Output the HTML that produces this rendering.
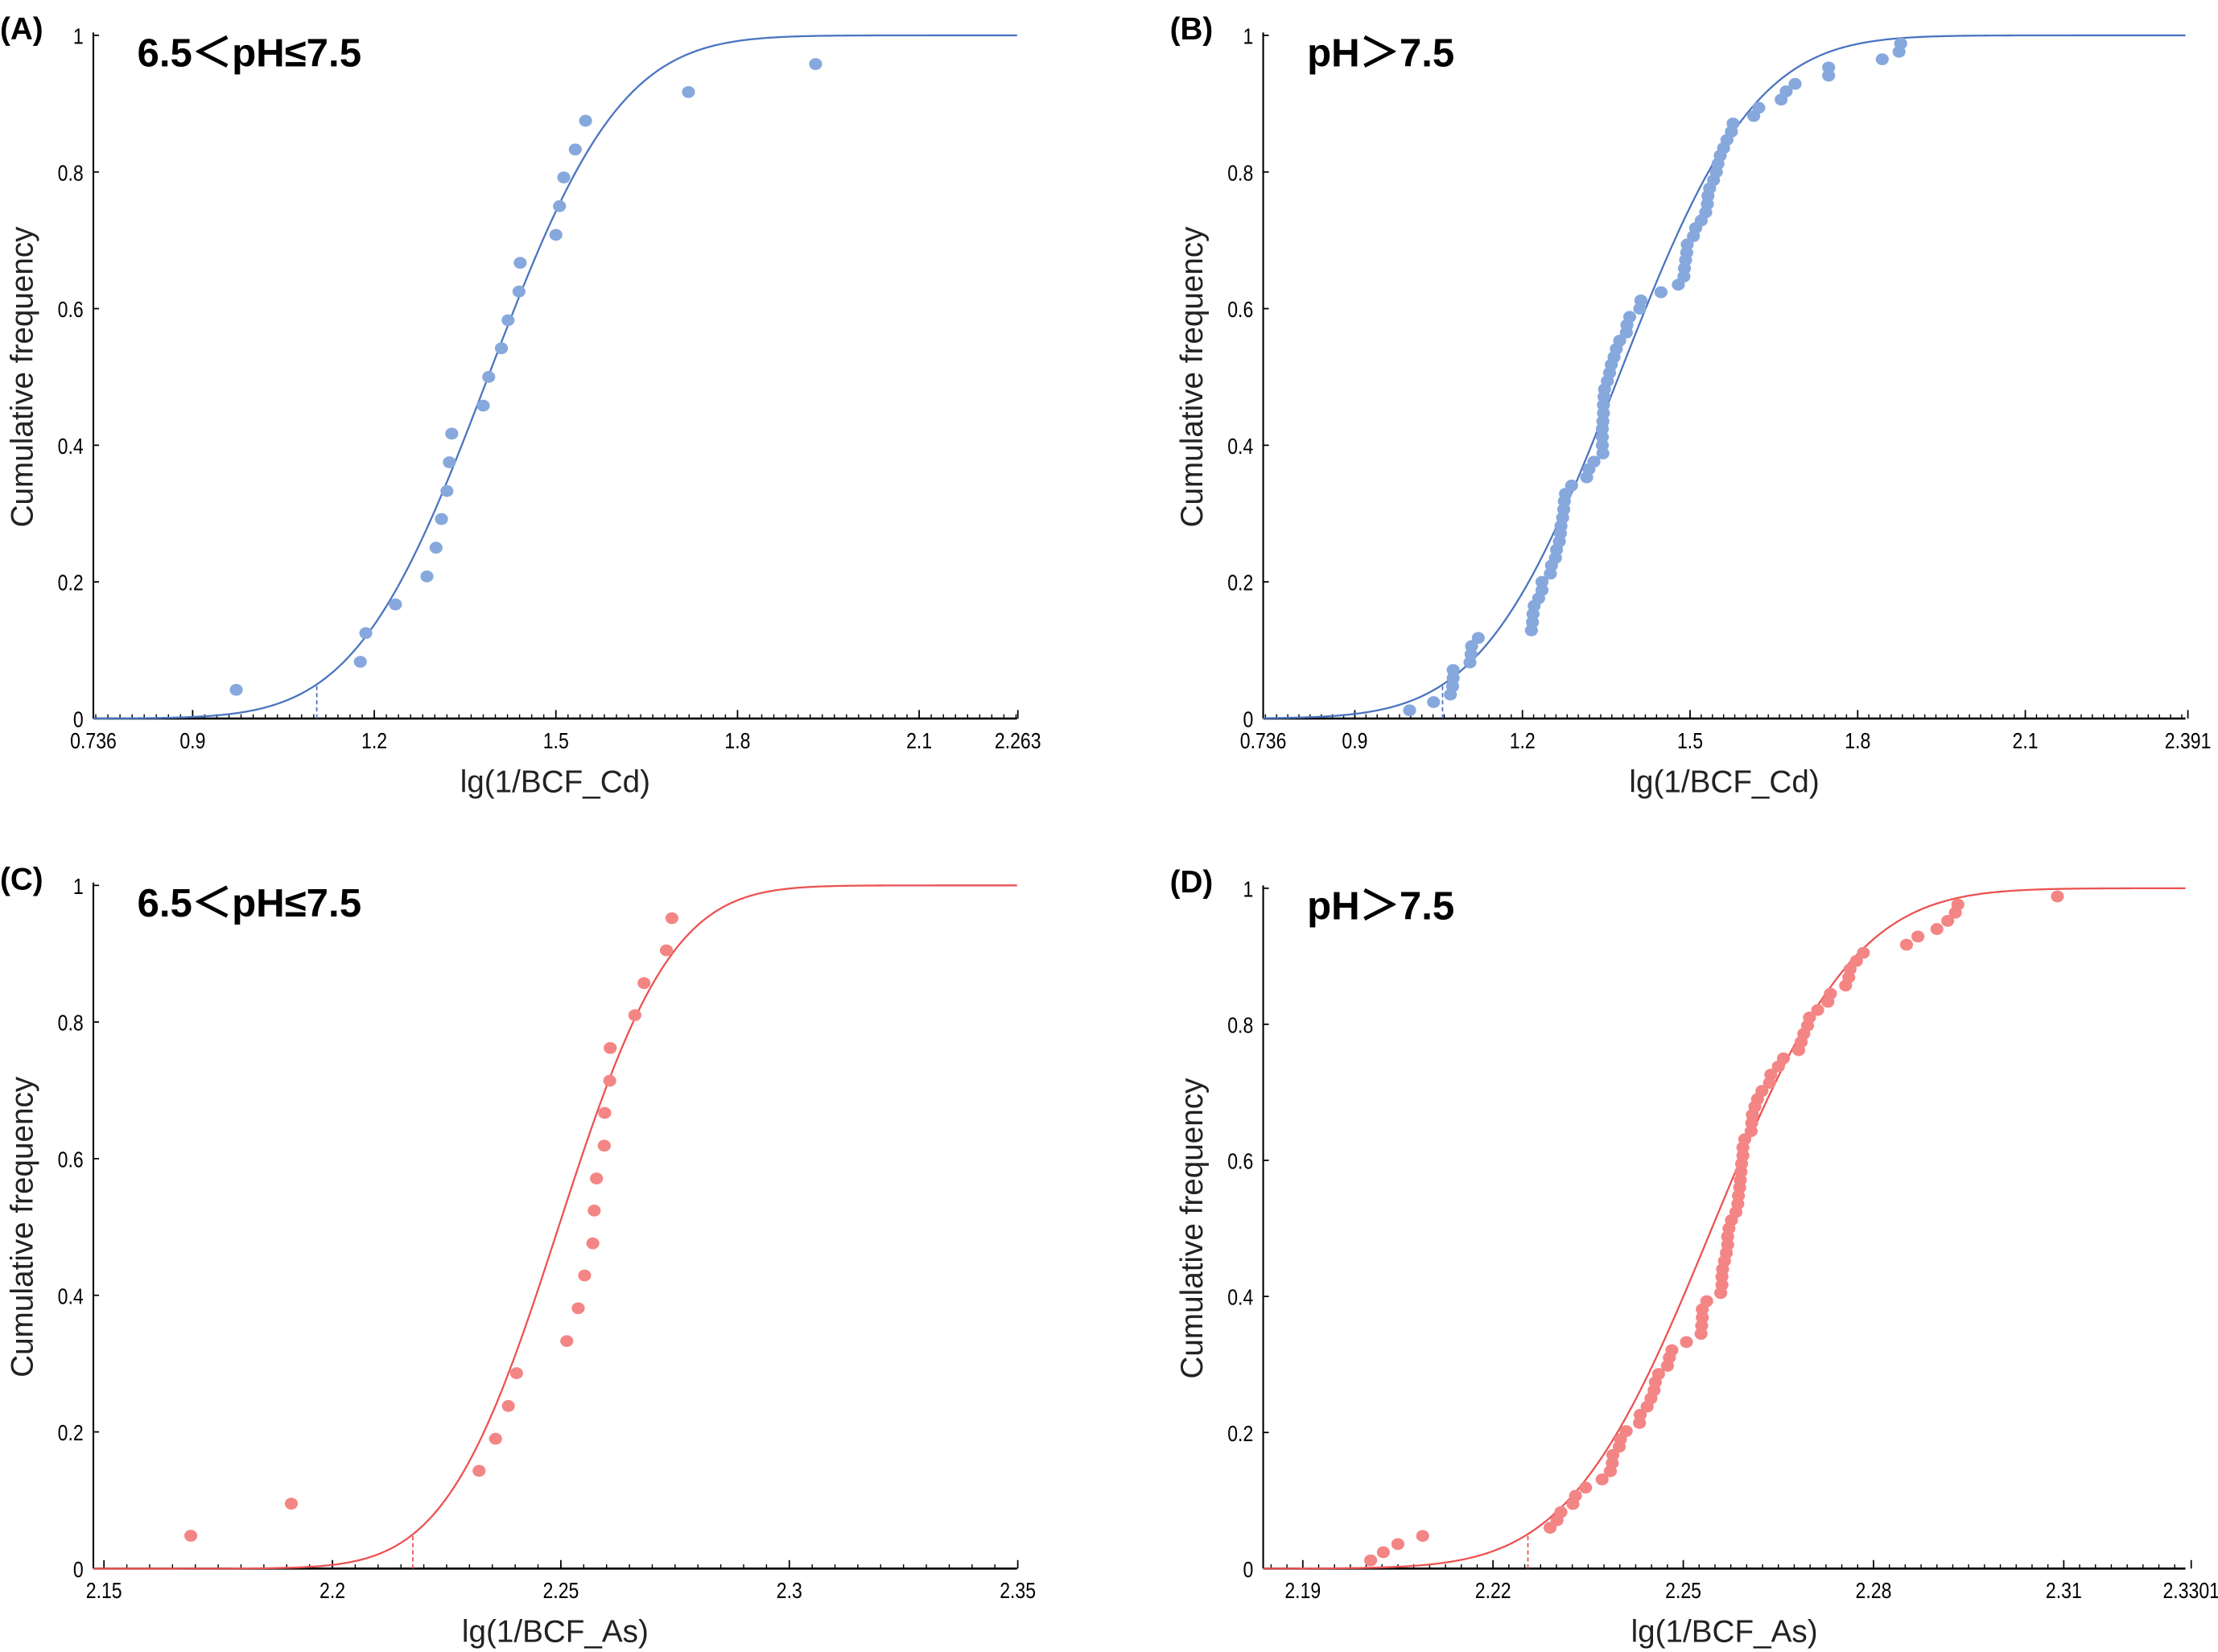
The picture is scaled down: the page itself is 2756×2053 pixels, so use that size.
<!DOCTYPE html>
<html><head><meta charset="utf-8"><title>Cumulative frequency SSD charts</title>
<style>
html,body{margin:0;padding:0;background:#fff;}
svg{display:block;}
text{font-family:"Liberation Sans",Arial,sans-serif;}
.tick{font-size:16px;fill:#000;}
.axt{font-size:22px;fill:#222;}
.ttl{font-size:28px;font-weight:bold;fill:#000;}
.pl{font-size:22px;font-weight:bold;fill:#000;}
</style></head>
<body>
<svg id="fig" width="2756" height="2053" viewBox="0 0 1568 1168" preserveAspectRatio="none" xmlns="http://www.w3.org/2000/svg"></svg>
<script>
// Panel A: Cd, 6.5<pH<=7.5
const aX = [0.972,1.177,1.186,1.235,1.287,1.302,1.311,1.320,1.324,1.328,1.380,1.389,1.410,1.421,1.439,1.441,1.500,1.506,1.513,1.532,1.549,1.719,1.929];
const aY = [0.042,0.083,0.125,0.167,0.208,0.250,0.292,0.333,0.375,0.417,0.458,0.500,0.542,0.583,0.625,0.667,0.708,0.750,0.792,0.833,0.875,0.917,0.958];
const aFit = [1.388, 0.172];
const aHC5 = [1.105];
const aTicks = [0.736,0.9,1.2,1.5,1.8,2.1,2.263];
// Panel B: Cd, pH>7.5
const bX = [0.998,1.041,1.071,1.075,1.076,1.076,1.106,1.108,1.109,1.121,1.216,1.218,1.219,1.221,1.229,1.235,1.235,1.250,1.252,1.259,1.261,1.266,1.268,1.269,1.272,1.274,1.275,1.277,1.288,1.315,1.319,1.328,1.344,1.343,1.343,1.343,1.344,1.345,1.345,1.346,1.347,1.352,1.356,1.359,1.364,1.368,1.374,1.386,1.387,1.392,1.410,1.412,1.448,1.479,1.489,1.490,1.492,1.494,1.495,1.506,1.510,1.520,1.528,1.531,1.532,1.535,1.542,1.547,1.550,1.554,1.560,1.566,1.574,1.577,1.614,1.623,1.663,1.672,1.688,1.748,1.748,1.844,1.874,1.877];
const bY = [0.012,0.024,0.035,0.047,0.059,0.071,0.082,0.094,0.106,0.118,0.129,0.141,0.153,0.165,0.176,0.188,0.200,0.212,0.224,0.235,0.247,0.259,0.271,0.282,0.294,0.306,0.318,0.329,0.341,0.353,0.365,0.376,0.388,0.400,0.412,0.424,0.435,0.447,0.459,0.471,0.482,0.494,0.506,0.518,0.529,0.541,0.553,0.565,0.576,0.588,0.600,0.612,0.624,0.635,0.647,0.659,0.671,0.682,0.694,0.706,0.718,0.729,0.741,0.753,0.765,0.776,0.788,0.800,0.812,0.824,0.835,0.847,0.859,0.871,0.882,0.894,0.906,0.918,0.929,0.941,0.953,0.965,0.976,0.988];
const bFit = [1.372, 0.191];
const bHC5 = [1.057];
const bTicks = [0.736,0.9,1.2,1.5,1.8,2.1,2.391];
// Panel C: As, 6.5<pH<=7.5
const cX = [2.1690,2.1910,2.2321,2.2357,2.2385,2.2403,2.2513,2.2538,2.2552,2.2570,2.2573,2.2578,2.2595,2.2596,2.2607,2.2608,2.2662,2.2682,2.2731,2.2743];
const cY = [0.048,0.095,0.143,0.190,0.238,0.286,0.333,0.381,0.429,0.476,0.524,0.571,0.619,0.667,0.714,0.762,0.810,0.857,0.905,0.952];
const cFit = [2.2495, 0.0194];
const cHC5 = [2.2176];
const cTicks = [2.15,2.2,2.25,2.3,2.35];
// Panel D: As, pH>7.5
const dX = [2.2007,2.2027,2.2050,2.2089,2.2290,2.2301,2.2307,2.2326,2.2330,2.2346,2.2372,2.2385,2.2388,2.2389,2.2399,2.2401,2.2410,2.2431,2.2432,2.2443,2.2449,2.2454,2.2456,2.2461,2.2475,2.2478,2.2482,2.2505,2.2528,2.2529,2.2530,2.2530,2.2537,2.2559,2.2561,2.2561,2.2562,2.2565,2.2568,2.2570,2.2570,2.2572,2.2576,2.2583,2.2586,2.2587,2.2589,2.2590,2.2591,2.2592,2.2594,2.2594,2.2597,2.2607,2.2608,2.2609,2.2613,2.2617,2.2624,2.2636,2.2638,2.2650,2.2658,2.2682,2.2686,2.2690,2.2696,2.2699,2.2712,2.2728,2.2732,2.2756,2.2761,2.2763,2.2773,2.2784,2.2852,2.2870,2.2900,2.2917,2.2929,2.2933,2.3090];
const dY = [0.012,0.024,0.036,0.048,0.060,0.071,0.083,0.095,0.107,0.119,0.131,0.143,0.155,0.167,0.179,0.190,0.202,0.214,0.226,0.238,0.250,0.262,0.274,0.286,0.298,0.310,0.321,0.333,0.345,0.357,0.369,0.381,0.393,0.405,0.417,0.429,0.440,0.452,0.464,0.476,0.488,0.500,0.512,0.524,0.536,0.548,0.560,0.571,0.583,0.595,0.607,0.619,0.631,0.643,0.655,0.667,0.679,0.690,0.702,0.714,0.726,0.738,0.750,0.762,0.774,0.786,0.798,0.810,0.821,0.833,0.845,0.857,0.869,0.881,0.893,0.905,0.917,0.929,0.940,0.952,0.964,0.976,0.988];
const dFit = [2.2545, 0.0177];
const dHC5 = [2.2255];
const dTicks = [2.19,2.22,2.25,2.28,2.31,2.3301];
const yTicks = [0,0.2,0.4,0.6,0.8,1];

const NS = "http://www.w3.org/2000/svg";
const svg = document.getElementById('fig');
function mk(tag, attrs, parent){
  const e = document.createElementNS(NS, tag);
  for (const k in attrs) e.setAttribute(k, attrs[k]);
  (parent||svg).appendChild(e);
  return e;
}
function erf(x){const s=x<0?-1:1;x=Math.abs(x);const t=1/(1+0.3275911*x);
  const y=1-(((((1.061405429*t-1.453152027)*t)+1.421413741)*t-0.284496736)*t+0.254829592)*t*Math.exp(-x*x);return s*y;}
function ncdf(v,m,s){return 0.5*(1+erf((v-m)/(s*Math.SQRT2)));}

function panel(cfg){
  const g = mk('g', {});
  
  
  const sx = v => cfg.refPx + (v - cfg.refVal) * cfg.ppu;
  const sy = v => cfg.y0 - v * (cfg.y0 - cfg.y1);
  const vmin = cfg.refVal + (cfg.left - cfg.refPx) / cfg.ppu;
  const vmax = cfg.refVal + (cfg.right - cfg.refPx) / cfg.ppu;
  const yAxis = mk('line', {x1:cfg.left, y1:cfg.y0, x2:cfg.left, y2:cfg.y1-2, stroke:'#000','stroke-width':1.2}, g);
  
  
  const xAxis = mk('line', {x1:cfg.left, y1:cfg.y0, x2:cfg.right, y2:cfg.y0, stroke:'#000','stroke-width':1.5}, g);
  
  
  let d = '';
  const st = cfg.minor;
  for (let v = Math.ceil(vmin/st)*st; v <= vmax + 1e-9; v += st) {
    const x = sx(v).toFixed(2);
    d += 'M'+x+' '+cfg.y0+'v-3';
  }
  const mt = mk('path', {d:d, stroke:'#000','stroke-width':0.8, fill:'none'}, g);
  
  
  cfg.ticks.forEach((t) => {
    const x = sx(t);
    mk('line', {x1:x, y1:cfg.y0, x2:x, y2:cfg.y0-6, stroke:'#000','stroke-width':1}, g);
    const lbl = mk('text', {x:0, y:0, 'text-anchor':'middle', class:'tick', transform:'translate('+x+','+(cfg.y0+21)+') scale(0.82,1)'}, g);
    
    
    lbl.textContent = String(t);
  });
  yTicks.forEach(t => {
    const y = sy(t);
    mk('line', {x1:cfg.left, y1:y, x2:cfg.left+4, y2:y, stroke:'#000','stroke-width':1}, g);
    const lbl = mk('text', {x:0, y:0, 'text-anchor':'end', class:'tick', transform:'translate('+(cfg.left-7)+','+(y+6)+') scale(0.82,1)'}, g);
    
    
    lbl.textContent = String(t);
  });
  const yt = mk('text', {x:0, y:0, 'text-anchor':'middle', class:'axt', transform:'translate('+(cfg.left-43)+','+((cfg.y0+cfg.y1)/2)+') rotate(-90)'}, g);
  
  
  yt.textContent = 'Cumulative frequency';
  const xt = mk('text', {x:(cfg.left+cfg.right)/2, y:cfg.y0+52, 'text-anchor':'middle', class:'axt'}, g);
  
  
  xt.textContent = cfg.xlabel;
  const tt = mk('text', {x:cfg.left+31, y:cfg.y1+22, class:'ttl'}, g);
  
  
  tt.textContent = cfg.title;
  const pl = mk('text', {x:cfg.left-66, y:cfg.y1+3, class:'pl'}, g);
  
  
  pl.textContent = cfg.letter;
  let p = '';
  for (let i = 0; i <= 400; i++) {
    const v = vmin + (vmax - vmin) * i / 400;
    p += (i ? 'L' : 'M') + sx(v).toFixed(2) + ' ' + sy(ncdf(v, cfg.fit[0], cfg.fit[1])).toFixed(2);
  }
  const cv = mk('path', {d:p, fill:'none', stroke:cfg.line, 'stroke-width':1.3}, g);
  
  
  const hx = sx(cfg.hc5[0]);
  const hl = mk('line', {x1:hx, y1:cfg.y0, x2:hx, y2:sy(ncdf(cfg.hc5[0], cfg.fit[0], cfg.fit[1])), stroke:cfg.line, 'stroke-width':1, 'stroke-dasharray':'3,2'}, g);
  
  
  cfg.xs.forEach((v, i) => {
    const c = mk('ellipse', {cx:sx(v), cy:sy(cfg.ys[i]), rx:4.6, ry:4.2, fill:cfg.pt}, g);
    
    
  });
}

const blueL = '#4a74c0', blueP = '#86a8dc', redL = '#ec5252', redP = '#f48585';
panel({id:'panel-a', letter:'(A)', title:'6.5\uFF1CpH\u22647.5', xlabel:'lg(1/BCF_Cd)', left:66, right:719, y0:508, y1:25, refVal:0.736, refPx:66, ppu:428, minor:0.02, ticks:aTicks, xs:aX, ys:aY, fit:aFit, hc5:aHC5, line:blueL, pt:blueP});
panel({id:'panel-b', letter:'(B)', title:'pH\uFF1E7.5', xlabel:'lg(1/BCF_Cd)', left:893, right:1545, y0:508, y1:25, refVal:0.736, refPx:893, ppu:395, minor:0.02, ticks:bTicks, xs:bX, ys:bY, fit:bFit, hc5:bHC5, line:blueL, pt:blueP});
panel({id:'panel-c', letter:'(C)', title:'6.5\uFF1CpH\u22647.5', xlabel:'lg(1/BCF_As)', left:66, right:719, y0:1109, y1:626, refVal:2.15, refPx:73.5, ppu:3230, minor:0.005, ticks:cTicks, xs:cX, ys:cY, fit:cFit, hc5:cHC5, line:redL, pt:redP});
panel({id:'panel-d', letter:'(D)', title:'pH\uFF1E7.5', xlabel:'lg(1/BCF_As)', left:893, right:1545, y0:1109, y1:628, refVal:2.19, refPx:921, ppu:4483, minor:0.0025, ticks:dTicks, xs:dX, ys:dY, fit:dFit, hc5:dHC5, line:redL, pt:redP});
</script>
</body></html>
